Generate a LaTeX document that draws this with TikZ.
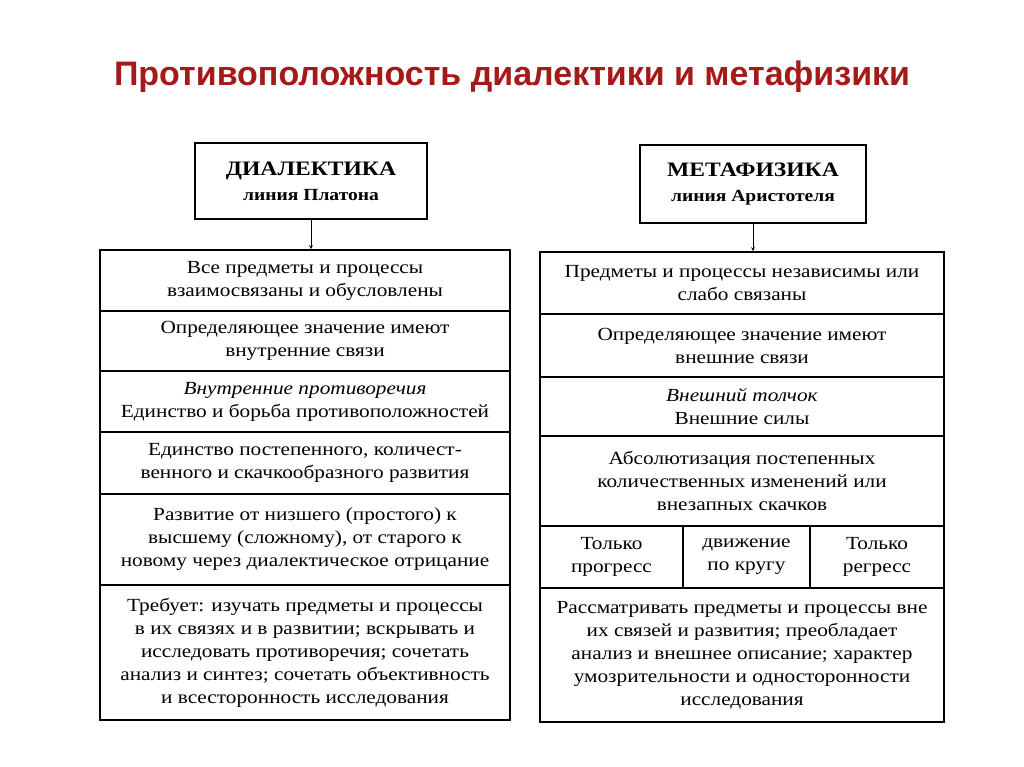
\documentclass[tikz,border=0pt]{standalone}
\usepackage{fontspec}
\setmainfont[FakeStretch=1.15]{Liberation Serif}
\newfontfamily\titlefont{Liberation Sans}
\definecolor{titlered}{RGB}{165,25,25}
\begin{document}
\begin{tikzpicture}[x=1pt,y=-1pt,
  cell/.style={draw,line width=1.6pt,align=center,font=\fontsize{18.5}{23}\selectfont,inner sep=0pt},
  head/.style={draw,line width=1.8pt,align=center,font=\fontsize{20.5}{25}\selectfont\bfseries,inner sep=0pt},
  arr/.style={-stealth,line width=0.8pt}]
\useasboundingbox (0,0) rectangle (1024,767);
\node[font=\titlefont\fontsize{34}{38}\selectfont\bfseries,text=titlered] (t) at (512,77) {Противоположность диалектики и метафизики};
% left
\node[head,minimum width=232pt,minimum height=76pt] (lh) at (311,181) {ДИАЛЕКТИКА\\{\fontsize{17}{21}\selectfont линия Платона}};
\node[cell,minimum width=410pt,minimum height=61pt] (l1) at (305,280.5) {Все предметы и процессы\\взаимосвязаны и обусловлены};
\node[cell,minimum width=410pt,minimum height=60pt] (l2) at (305,341) {Определяющее значение имеют\\внутренние связи};
\node[cell,minimum width=410pt,minimum height=61pt] (l3) at (305,401.5) {\textit{Внутренние противоречия}\\Единство и борьба противоположностей};
\node[cell,minimum width=410pt,minimum height=62pt] (l4) at (305,463) {Единство постепенного, количест-\\венного и скачкообразного развития};
\node[cell,minimum width=410pt,minimum height=91pt] (l5) at (305,539.5) {Развитие от низшего (простого) к\\высшему (сложному), от старого к\\новому через диалектическое отрицание};
\node[cell,minimum width=410pt,minimum height=135pt] (l6) at (305,652.5) {Требует: изучать предметы и процессы\\в их связях и в развитии; вскрывать и\\исследовать противоречия; сочетать\\анализ и синтез; сочетать объективность\\и всесторонность исследования};
\draw[arr] (lh.south) -- (l1.north-|lh.south);
% right
\node[head,minimum width=226pt,minimum height=78pt] (rh) at (753,184) {МЕТАФИЗИКА\\{\fontsize{17}{21}\selectfont линия Аристотеля}};
\node[cell,minimum width=404pt,minimum height=62pt] (r1) at (742,283) {Предметы и процессы независимы или\\слабо связаны};
\node[cell,minimum width=404pt,minimum height=63pt] (r2) at (742,345.5) {Определяющее значение имеют\\внешние связи};
\node[cell,minimum width=404pt,minimum height=59pt] (r3) at (742,406.5) {\textit{Внешний толчок}\\Внешние силы};
\node[cell,minimum width=404pt,minimum height=90pt] (r4) at (742,481) {Абсолютизация постепенных\\количественных изменений или\\внезапных скачков};
\node[cell,minimum width=143pt,minimum height=62pt] (r5a) at (611.5,557) {Только\\прогресс};
\node[cell,minimum width=127pt,minimum height=62pt] (r5b) at (746.5,557) {движение\\по кругу};
\node[cell,minimum width=134pt,minimum height=62pt] (r5c) at (877,557) {Только\\регресс};
\node[cell,minimum width=404pt,minimum height=134pt] (r6) at (742,655) {Рассматривать предметы и процессы вне\\их связей и развития; преобладает\\анализ и внешнее описание; характер\\умозрительности и односторонности\\исследования};
\draw[arr] (rh.south) -- (r1.north-|rh.south);
\end{tikzpicture}
\end{document}
